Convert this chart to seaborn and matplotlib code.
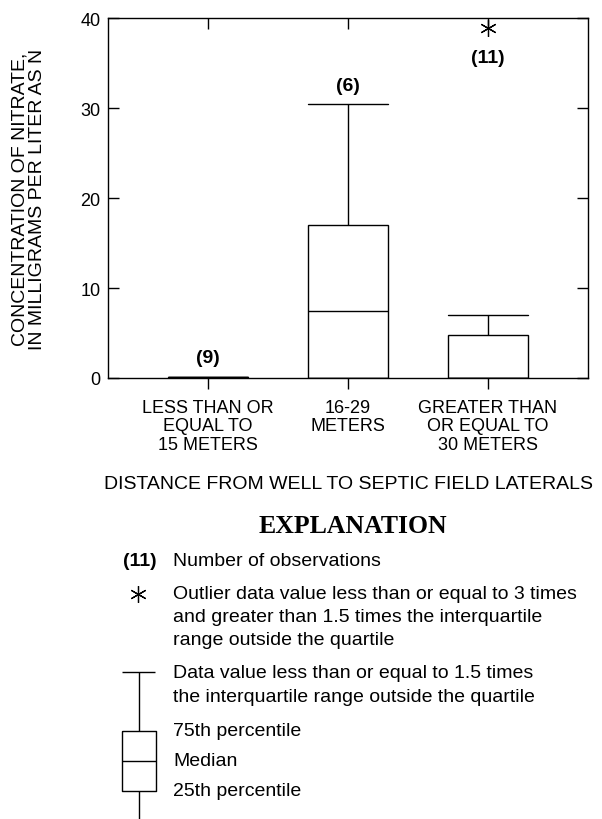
import numpy as np
import pandas as pd
import seaborn as sb
import matplotlib.pyplot as plt

# distance classes and nitrate concentrations (mg/L as N)
categories = ["LESS THAN OR\nEQUAL TO\n15 METERS", "16-29\nMETERS", "GREATER THAN\nOR EQUAL TO\n30 METERS"]
near_vals = [0.02, 0.04, 0.06, 0.08, 0.09, 0.10, 0.12, 0.14, 0.16]
mid_vals = [0.0, 0.0, 0.0, 14.8, 17.73, 30.4]
far_vals = [0.0, 0.0, 0.0, 0.0, 0.0, 0.0, 1.2, 4.3, 5.3, 7.0, 38.9]
y_ticks = [0, 10, 20, 30, 40]

groups = [near_vals, mid_vals, far_vals]
df = pd.DataFrame({
    "distance": np.repeat(categories, [len(g) for g in groups]),
    "nitrate": np.concatenate(groups),
})

sb.set_theme(style="white")
plt.rcParams["font.family"] = ["Liberation Sans", "DejaVu Sans"]
plt.rcParams["text.color"] = "black"
plt.rcParams["axes.labelcolor"] = "black"
plt.rcParams["xtick.color"] = "black"
plt.rcParams["ytick.color"] = "black"

W, H = 602, 820
fig = plt.figure(figsize=(W / 100, H / 100), dpi=100)
ax = fig.add_axes([108 / W, 1 - 379 / H, 480 / W, 360 / H])

star = (6, 2, 0)
sb.boxplot(data=df, x="distance", y="nitrate", order=categories, ax=ax,
           width=0.57, color="white", linecolor="black", linewidth=1.0,
           capwidths=0.57,
           flierprops=dict(marker=star, markersize=12, markeredgewidth=0.9,
                           markeredgecolor="black"))

ax.set_xlim(-0.714, 2.714)
ax.set_ylim(0, 40)
ax.set_yticks(y_ticks)
for s in ax.spines.values():
    s.set_color("black")
    s.set_linewidth(1.0)

ax.tick_params(axis="y", direction="in", length=8, width=1, left=True, right=True,
               labelsize=13, pad=5.5)
ax.tick_params(axis="x", direction="out", length=8, width=1, bottom=True,
               labelsize=13, pad=7)
for lab in ax.get_xticklabels():
    lab.set_linespacing(1.12)
top = ax.secondary_xaxis("top")
top.set_xticks(range(len(categories)))
top.tick_params(direction="in", length=8, width=1, labeltop=False)
top.spines["top"].set_visible(False)

ax.set_xlabel("DISTANCE FROM WELL TO SEPTIC FIELD LATERALS", fontsize=14)
ax.xaxis.set_label_coords(0.5, -0.27)
ax.set_ylabel("CONCENTRATION OF NITRATE,\nIN MILLIGRAMS PER LITER AS N", fontsize=14,
              linespacing=1.0)
ax.yaxis.set_label_coords(-0.13, 0.5)

# number of observations above / below each box
for i, g in enumerate(groups):
    top_val = max(g)
    off = -21.5 if i == 2 else 13.7
    ax.annotate(f"({len(g)})", (i, top_val), xytext=(0, off),
                textcoords="offset points", ha="center", va="center",
                fontsize=14, fontweight="bold")

# overlay in pixel coordinates for the explanation
lax = fig.add_axes([0, 0, 1, 1])
lax.set_xlim(0, W)
lax.set_ylim(H, 0)
lax.axis("off")
lax.patch.set_alpha(0)

lax.text(353, 527, "EXPLANATION", ha="center", va="center", fontsize=18.5,
         fontweight="bold", family="Liberation Serif")

tx = 173
fs = 14
lax.text(139.5, 562, "(11)", ha="center", va="center", fontsize=14, fontweight="bold")
lax.text(tx, 562, "Number of observations", va="center", fontsize=fs)

lax.plot([138], [595], marker=star, markersize=12, markeredgewidth=0.9, color="black")
outlier_txt = ["Outlier data value less than or equal to 3 times",
               "and greater than 1.5 times the interquartile",
               "range outside the quartile"]
for k, t in enumerate(outlier_txt):
    lax.text(tx, 595 + 23 * k, t, va="center", fontsize=fs)

whisk_txt = ["Data value less than or equal to 1.5 times",
             "the interquartile range outside the quartile"]
for k, t in enumerate(whisk_txt):
    lax.text(tx, 674 + 24 * k, t, va="center", fontsize=fs)

lax.text(tx, 732, "75th percentile", va="center", fontsize=fs)
lax.text(tx, 762, "Median", va="center", fontsize=fs)
lax.text(tx, 792, "25th percentile", va="center", fontsize=fs)

# explanation box glyph
kw = dict(color="black", lw=1.0, solid_capstyle="butt")
lax.plot([122, 155], [673, 673], **kw)
lax.plot([138.5, 138.5], [673, 732], **kw)
lax.plot([122, 156, 156, 122, 122], [732, 732, 792, 792, 732], **kw)
lax.plot([122, 156], [762, 762], **kw)
lax.plot([138.5, 138.5], [792, 820], **kw)

plt.savefig("out.png", dpi=100)
plt.close()
